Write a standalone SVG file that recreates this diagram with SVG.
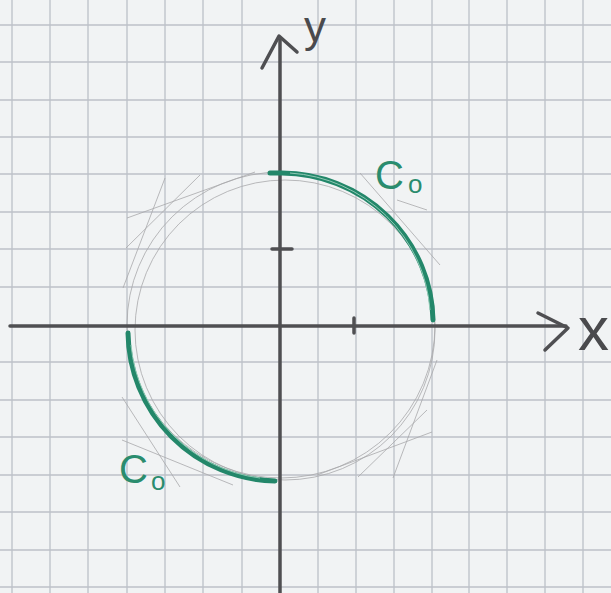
<svg xmlns="http://www.w3.org/2000/svg" width="611" height="593" viewBox="0 0 611 593">
<style>
.grid line{stroke:#bcc0c8;stroke-width:1.3}
.axis{stroke:#4f4f52;stroke-width:3.5;fill:none;stroke-linecap:round;stroke-linejoin:round}
.pencil{stroke:#a9a9ab;stroke-width:1;fill:none;opacity:0.8}
.curve{stroke:#23876a;stroke-width:5;fill:none;stroke-linecap:round}
.hl{stroke:#8fc9b4;stroke-width:1;fill:none}
.lbl{font-family:"Liberation Sans",Arial,sans-serif;fill:#2a8c6e}
.ax{font-family:"Liberation Sans",Arial,sans-serif;fill:#4a4a4d}
</style>
<rect width="611" height="593" fill="#f1f3f4"/>
<g class="grid" id="grid">
<line x1="12" y1="0" x2="12" y2="593"/><line x1="50" y1="0" x2="50" y2="593"/><line x1="88" y1="0" x2="88" y2="593"/><line x1="127" y1="0" x2="127" y2="593"/><line x1="165" y1="0" x2="165" y2="593"/><line x1="203" y1="0" x2="203" y2="593"/><line x1="242" y1="0" x2="242" y2="593"/><line x1="318" y1="0" x2="318" y2="593"/><line x1="356" y1="0" x2="356" y2="593"/><line x1="394" y1="0" x2="394" y2="593"/><line x1="432" y1="0" x2="432" y2="593"/><line x1="469" y1="0" x2="469" y2="593"/><line x1="507" y1="0" x2="507" y2="593"/><line x1="545" y1="0" x2="545" y2="593"/><line x1="583" y1="0" x2="583" y2="593"/>
<line x1="0" y1="25" x2="611" y2="25"/><line x1="0" y1="62" x2="611" y2="62"/><line x1="0" y1="100" x2="611" y2="100"/><line x1="0" y1="137" x2="611" y2="137"/><line x1="0" y1="174" x2="611" y2="174"/><line x1="0" y1="212" x2="611" y2="212"/><line x1="0" y1="249" x2="611" y2="249"/><line x1="0" y1="287" x2="611" y2="287"/><line x1="0" y1="362" x2="611" y2="362"/><line x1="0" y1="400" x2="611" y2="400"/><line x1="0" y1="437" x2="611" y2="437"/><line x1="0" y1="475" x2="611" y2="475"/><line x1="0" y1="512" x2="611" y2="512"/><line x1="0" y1="550" x2="611" y2="550"/><line x1="0" y1="587" x2="611" y2="587"/>
</g>
<g id="pencil-sketch">
<ellipse class="pencil" cx="281" cy="325" rx="154" ry="153"/>
<ellipse class="pencil" cx="285" cy="330" rx="150" ry="150"/>
<line class="pencil" x1="127" y1="218" x2="255" y2="172"/>
<line class="pencil" x1="126" y1="248" x2="200" y2="175"/>
<line class="pencil" x1="123" y1="288" x2="165" y2="178"/>
<line class="pencil" x1="358" y1="477" x2="427" y2="410"/>
<line class="pencil" x1="393" y1="478" x2="437" y2="360"/>
<line class="pencil" x1="317" y1="475" x2="432" y2="432"/>
<line class="pencil" x1="360" y1="173" x2="440" y2="265"/>
<line class="pencil" x1="397" y1="200" x2="427" y2="210"/>
<line class="pencil" x1="122" y1="397" x2="180" y2="487"/>
<line class="pencil" x1="122" y1="440" x2="233" y2="485"/>
</g>
<g id="axes">
<line class="axis" x1="10" y1="326" x2="566" y2="326" stroke-width="3"/>
<line class="axis" x1="280" y1="40" x2="280" y2="593" stroke-width="4"/>
<path class="axis" d="M262,68 L279,36 L297,52"/>
<path class="axis" d="M538,313 L568,328 L545,350"/>
<line class="axis" x1="272" y1="249" x2="292" y2="249" stroke-width="3"/>
<line class="axis" x1="354" y1="318" x2="354" y2="333" stroke-width="3"/>
<text class="ax" x="304" y="42" font-size="44">y</text>
<text class="ax" x="578" y="350" font-size="62">x</text>
</g>
<g id="curve-upper">
<path class="curve" d="M270,173 L282,173 A152 150 0 0 1 433,320"/>
<path class="hl" d="M290,173 A150 148 0 0 1 430,310"/>
</g>
<g id="curve-lower">
<path class="curve" d="M128,333 A150 150 0 0 0 275,481"/>
<path class="hl" d="M131,345 A148 148 0 0 0 260,478"/>
</g>
<g id="labels">
<text class="lbl" x="375" y="189" font-size="40">C<tspan x="408" y="193" font-size="26">o</tspan></text>
<text class="lbl" x="119" y="483" font-size="40">C<tspan x="151" y="490" font-size="26">o</tspan></text>
</g>
</svg>
